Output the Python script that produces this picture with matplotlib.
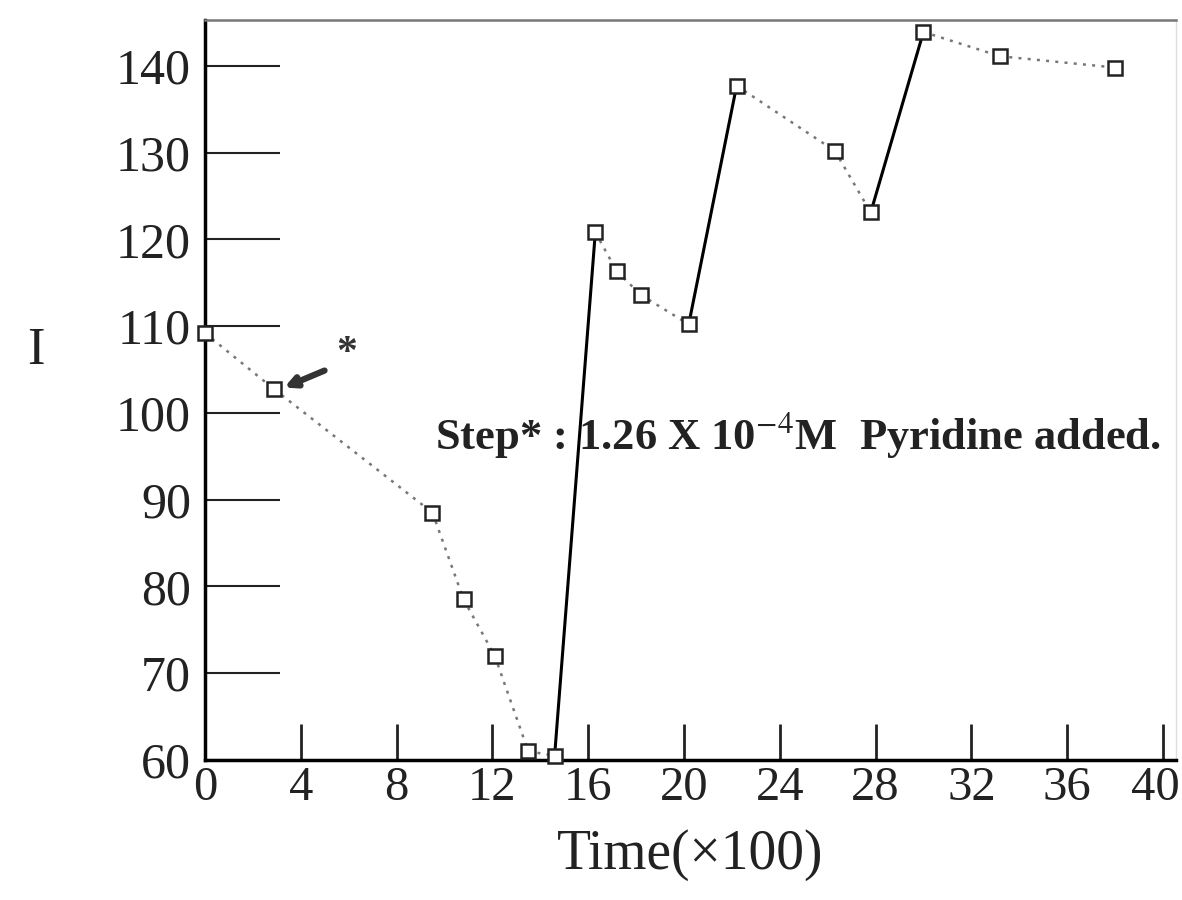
import matplotlib
matplotlib.use('Agg')
import matplotlib.pyplot as plt
import matplotlib.transforms as mtransforms

plt.rcParams['font.family'] = ['Liberation Serif', 'DejaVu Serif']
plt.rcParams['mathtext.fontset'] = 'stix'

# 読み取ったデータ (時間 x100, 強度 I)
time = [0, 2.9, 9.5, 10.8, 12.1, 13.5, 14.6, 16.3, 17.2, 18.2, 20.2,
        22.2, 26.3, 27.8, 30.0, 33.2, 38.0]
intensity = [109.2, 102.7, 88.5, 78.5, 72.0, 61.0, 60.5, 120.8, 116.3, 113.6,
             110.2, 137.7, 130.2, 123.1, 143.9, 141.1, 139.8]
# ピリジン添加の段（この点の後の区間を実線で描く）
step_after = [6, 10, 13]

xticks = list(range(0, 41, 4))
yticks = list(range(60, 141, 10))

fig = plt.figure(figsize=(11.82, 9), dpi=100)
ax = fig.add_axes([0.1734, 0.1556, 0.8216, 0.8224])

for i in range(len(time) - 1):
    xs = time[i:i + 2]
    ys = intensity[i:i + 2]
    if i in step_after:
        ax.plot(xs, ys, color='black', lw=2.2, ls='-', zorder=2)
    else:
        ax.plot(xs, ys, color='#777777', lw=1.8, ls=(0, (1.2, 2.5)), zorder=2)

ax.plot(time, intensity, ls='none', marker='s', ms=10, mfc='white',
        mec='#222222', mew=1.8, zorder=3, clip_on=False)

# 矢印と * 印
ax.annotate('', xy=(3.2, 102.8), xytext=(5.1, 105.0),
            arrowprops=dict(arrowstyle='-|>', color='#333333', lw=4.5,
                            mutation_scale=16))
ax.text(5.5, 106.8, '*', fontsize=30, fontweight='bold', color='#333333',
        ha='left', va='center')

ax.text(9.6, 97.5, 'Step* : 1.26 X 10$^{-4}$M  Pyridine added.', fontsize=32,
        fontweight='bold', color='#222222', ha='left', va='center')

ax.set_xlim(0, 40.55)
ax.set_ylim(60, 145.3)
ax.set_xticks(xticks)
ax.set_yticks(yticks)
ax.tick_params(axis='x', direction='in', length=26, width=2, labelsize=35,
               pad=4, colors='#222222')
ax.tick_params(axis='y', direction='in', length=54, width=1.5, labelsize=36,
               pad=10, colors='#222222')
for s in ['left', 'bottom']:
    ax.spines[s].set_linewidth(2.5)
ax.spines['top'].set_linewidth(1.8)
ax.spines['top'].set_color('#777777')
ax.spines['right'].set_linewidth(1)
ax.spines['right'].set_color('#dddddd')

# 右端の "40" が切れないよう少し左へ
last = ax.get_xticklabels()[-1]
last.set_transform(last.get_transform() +
                   mtransforms.ScaledTranslation(-8 / 100, 0, fig.dpi_scale_trans))

ax.set_xlabel('Time(×100)', fontsize=40, color='#222222', labelpad=14)
fig.text(0.03, 0.61, 'I', fontsize=38, color='#222222', ha='center', va='center')

plt.savefig('out.png', dpi=100)
